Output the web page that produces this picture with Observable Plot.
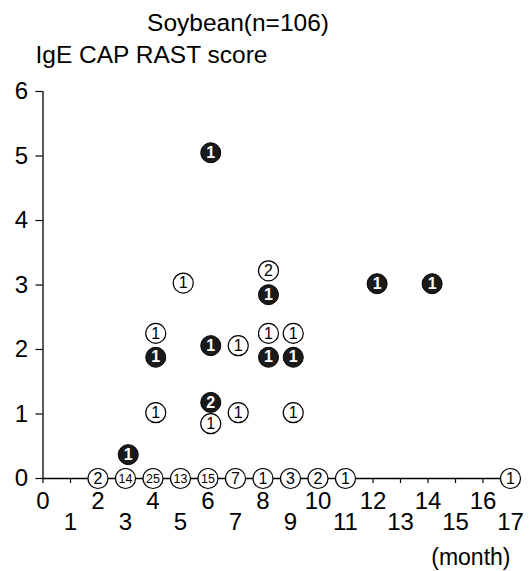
<!DOCTYPE html>
<html>
<head>
<meta charset="utf-8">
<script src="https://cdn.jsdelivr.net/npm/d3@7"></script>
<script src="https://cdn.jsdelivr.net/npm/@observablehq/plot@0.6"></script>
<style>
  html, body { margin: 0; padding: 0; background: #fff; }
  #chart { width: 530px; height: 571px; }
</style>
</head>
<body>
<div id="chart"></div>
<script>
// ---- data ----
const title = "Soybean(n=106)";
const yTitle = "IgE CAP RAST score";
const xTitle = "(month)";

const yTicks = [0, 1, 2, 3, 4, 5, 6];
const xTicksEven = [0, 2, 4, 6, 8, 10, 12, 14, 16];
const xTicksOdd = [1, 3, 5, 7, 9, 11, 13, 15, 17];

// score 0 (on the axis)
const zeroMonths = [2, 3, 4, 5, 6, 7, 8, 9, 10, 11, 17];
const zeroCounts = [2, 14, 25, 13, 15, 7, 1, 3, 2, 1, 1];

// open circles
const openMonths = [5.1, 8.2, 4.1, 7.1, 8.2, 9.1, 4.1, 6.1, 7.1, 9.1];
const openScores = [3.03, 3.22, 2.25, 2.06, 2.25, 2.25, 1.02, 0.85, 1.02, 1.02];
const openCounts = [1, 2, 1, 1, 1, 1, 1, 1, 1, 1];

// filled circles
const filledMonths = [3.1, 6.1, 8.2, 12.15, 14.15, 4.1, 6.1, 8.2, 9.1, 6.1];
const filledScores = [0.37, 5.05, 2.85, 3.02, 3.02, 1.88, 2.06, 1.88, 1.88, 1.18];
const filledCounts = [1, 1, 1, 1, 1, 1, 1, 1, 1, 2];

const zeroData = zeroMonths.map((m, i) => ({x: m, y: 0, n: zeroCounts[i]}));
const openData = openMonths.map((m, i) => ({x: m, y: openScores[i], n: openCounts[i]}));
const filledData = filledMonths.map((m, i) => ({x: m, y: filledScores[i], n: filledCounts[i]}));
const hollow = zeroData.concat(openData);

const FONT = "'Liberation Sans', Arial, Helvetica, sans-serif";
const R = 10;

const chart = Plot.plot({
  width: 530,
  height: 571,
  marginLeft: 42.5,
  marginRight: 20,
  marginTop: 91,
  marginBottom: 93,
  style: {fontFamily: FONT, background: "#fff", color: "#000"},
  x: {domain: [0, 17]},
  y: {domain: [0, 6]},
  marks: [
    // axis lines
    Plot.ruleX([0], {y1: 0, y2: 6, stroke: "#000", strokeWidth: 1.3}),
    Plot.ruleY([0], {x1: 0, x2: 17, stroke: "#000", strokeWidth: 1.3}),
    // y axis ticks + labels
    Plot.axisY({ticks: yTicks, tickFormat: "d", tickSize: 7, tickPadding: 8, fontSize: 24, label: null, strokeWidth: 1.2}),
    // x ticks (marks only)
    Plot.axisX({ticks: xTicksEven.concat(xTicksOdd), tickSize: 5, tickFormat: () => "", label: null, strokeWidth: 1.2}),
    // x labels, two staggered rows
    Plot.axisX({ticks: xTicksEven, tickFormat: "d", tickSize: 0, tickPadding: 13, fontSize: 24, label: null}),
    Plot.axisX({ticks: xTicksOdd, tickFormat: "d", tickSize: 0, tickPadding: 34, fontSize: 24, label: null}),
    // hollow circles
    Plot.dot(hollow, {x: "x", y: "y", r: R, fill: "#fff", stroke: "#000", strokeWidth: 1.2}),
    Plot.text(hollow, {x: "x", y: "y", text: d => String(d.n), fill: "#000",
      fontSize: d => (d.n >= 10 ? 12.5 : 16), lineAnchor: "middle"}),
    // filled circles
    Plot.dot(filledData, {x: "x", y: "y", r: R, fill: "#1a1a1a", stroke: "#000", strokeWidth: 1}),
    Plot.text(filledData, {x: "x", y: "y", text: d => String(d.n), fill: "#fff",
      fontSize: 16, fontWeight: "bold", lineAnchor: "middle"}),
    // titles
    Plot.text([title], {frameAnchor: "top-left", dx: 195, dy: -68, textAnchor: "middle",
      lineAnchor: "middle", fontSize: 24.5, fill: "#000"}),
    Plot.text([yTitle], {frameAnchor: "top-left", dx: -7.5, dy: -36, textAnchor: "start",
      lineAnchor: "middle", fontSize: 24.5, fill: "#000"}),
    Plot.text([xTitle], {frameAnchor: "bottom-right", dx: 0, dy: 79, textAnchor: "end",
      lineAnchor: "middle", fontSize: 23, fill: "#000"})
  ]
});

document.getElementById("chart").appendChild(chart);
</script>
</body>
</html>
